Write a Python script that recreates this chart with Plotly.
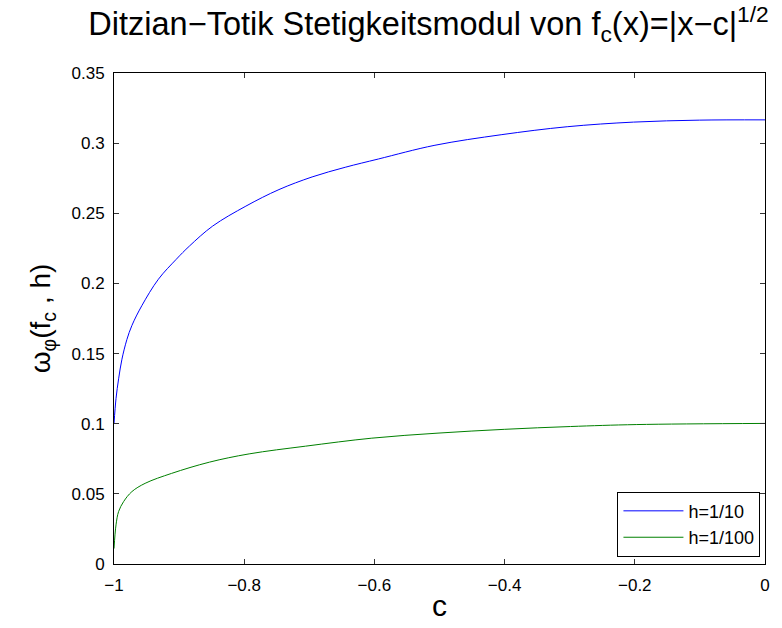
import plotly.graph_objects as go

# Readings from the reference picture
c_h10 = [-1.0, -0.9969, -0.9929, -0.9878, -0.9802, -0.9725, -0.9573, -0.9318,
         -0.9044, -0.884, -0.8484, -0.7974, -0.7466, -0.6957, -0.6448, -0.5939,
         -0.507, -0.4053, -0.3038, -0.202, -0.1003, 0.0]
w_h10 = [0.1, 0.118, 0.132, 0.146, 0.160, 0.170, 0.1841, 0.203,
         0.2172, 0.2267, 0.2409, 0.2551, 0.2669, 0.2759, 0.2828, 0.2887,
         0.2985, 0.306, 0.3117, 0.315, 0.3164, 0.3166]

c_h100 = [-1.0, -0.9969, -0.9929, -0.9852, -0.9725, -0.9522, -0.9115, -0.8534,
          -0.7924, -0.7057, -0.604, -0.5023, -0.4005, -0.2988, -0.197, 0.0]
w_h100 = [0.011, 0.0279, 0.0374, 0.0445, 0.0516, 0.0575, 0.0646, 0.0726,
          0.0785, 0.0840, 0.0897, 0.0933, 0.0960, 0.0980, 0.0994, 0.1002]

x_ticks = [-1, -0.8, -0.6, -0.4, -0.2, 0]
x_ticklabels = ["\u22121", "\u22120.8", "\u22120.6", "\u22120.4", "\u22120.2", "0"]
y_ticks = [0, 0.05, 0.1, 0.15, 0.2, 0.25, 0.3, 0.35]
y_ticklabels = ["0", "0.05", "0.1", "0.15", "0.2", "0.25", "0.3", "0.35"]

FONT = "Liberation Sans, Arial, Helvetica, sans-serif"

fig = go.Figure()
fig.add_trace(go.Scatter(x=c_h10, y=w_h10, mode="lines", name="h=1/10",
                         line=dict(color="#0000ff", width=1, shape="spline", smoothing=1.0)))
fig.add_trace(go.Scatter(x=c_h100, y=w_h100, mode="lines", name="h=1/100",
                         line=dict(color="#008000", width=1, shape="spline", smoothing=1.0)))

axis_common = dict(showline=True, linecolor="black", linewidth=1, mirror="ticks",
                   ticks="inside", ticklen=5, tickcolor="#333333", showgrid=False,
                   zeroline=False, tickfont=dict(family=FONT, size=17, color="black"))

fig.update_xaxes(range=[-1, 0], tickvals=x_ticks, ticktext=x_ticklabels,
                 ticklabelstandoff=6,
                 title=dict(text="c", font=dict(family=FONT, size=30, color="black"), standoff=0),
                 **axis_common)
fig.update_yaxes(range=[0, 0.35], tickvals=y_ticks, ticktext=y_ticklabels,
                 ticklabelstandoff=5,
                 title=dict(text="\u03c9<sub>\u03c6</sub>(f<sub>c</sub> , h)",
                            font=dict(family=FONT, size=28, color="black"), standoff=12),
                 **axis_common)

fig.update_layout(
    width=782, height=628,
    margin=dict(l=114, r=13, t=73, b=62),
    paper_bgcolor="white", plot_bgcolor="white",
    title=dict(text="Ditzian\u2212Totik Stetigkeitsmodul von f<sub>c</sub>(x)=|x\u2212c|<sup>1/2</sup>",
               font=dict(family=FONT, size=32.5, color="black"),
               x=0.548, xanchor="center", y=0.962, yanchor="middle", yref="container"),
    legend=dict(x=0.993, y=0.015, xanchor="right", yanchor="bottom",
                bgcolor="white", bordercolor="black", borderwidth=1,
                font=dict(family=FONT, size=18, color="black"),
                tracegroupgap=0, itemwidth=60),
    showlegend=True,
)

fig.write_html("out.html")
